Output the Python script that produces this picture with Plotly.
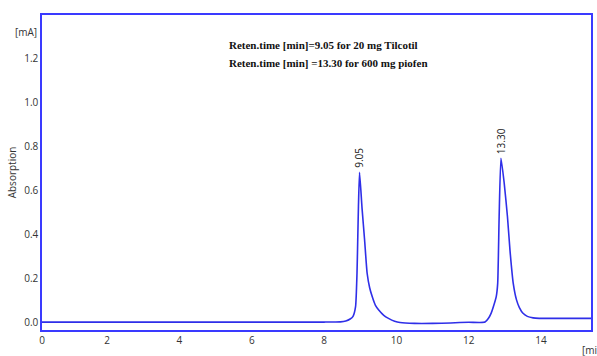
import plotly.graph_objects as go

# Chromatogram trace (time in min, absorption in mA)
time_min = [0.2, 2.0, 4.0, 6.0, 8.0, 8.45, 8.6, 8.72, 8.8, 8.87, 8.91, 8.93, 8.95, 8.98,
            9.05, 9.12, 9.19, 9.26, 9.33, 9.42, 9.51, 9.65, 9.78, 9.95, 10.1, 10.5,
            11.0, 11.5, 11.75, 12.0, 12.3, 12.45, 12.54, 12.62, 12.68, 12.76, 12.8,
            12.84, 12.89, 12.98, 13.07, 13.14, 13.23, 13.32, 13.4, 13.5, 13.62, 13.78,
            13.95, 14.5, 15.0, 15.38]
absorb = [0.004, 0.004, 0.004, 0.004, 0.004, 0.005, 0.009, 0.018, 0.03, 0.074, 0.227, 0.377,
          0.53, 0.685, 0.52, 0.377, 0.226, 0.16, 0.12, 0.08, 0.059, 0.035, 0.021, 0.008, 0.002,
          -0.002, -0.002, 0.0, 0.002, 0.003, 0.002, 0.004, 0.02, 0.045, 0.074, 0.12, 0.18,
          0.483, 0.749, 0.636, 0.483, 0.33, 0.18, 0.105, 0.07, 0.044, 0.03, 0.023,
          0.021, 0.021, 0.021, 0.021]

# Peak labels
peak_times = [8.98, 12.89]
peak_heights = [0.685, 0.749]
peak_labels = ["9.05", "13.30"]

x_tickvals = [0.2, 2, 4, 6, 8, 10, 12, 14]
x_ticktext = ["0", "2", "4", "6", "8", "10", "12", "14"]
y_tickvals = [0.0, 0.2, 0.4, 0.6, 0.8, 1.0, 1.2]

info_lines = ["Reten.time [min]=9.05 for 20 mg Tilcotil",
              "Reten.time [min] =13.30 for 600 mg piofen"]

blue = "#3a3aff"
tick_font = dict(family="Open Sans, Noto Sans, sans-serif", size=10, color="#333333")

fig = go.Figure()
fig.add_trace(go.Scatter(x=time_min, y=absorb, mode="lines",
                         line=dict(color="#2f2fe8", width=1.6, shape="spline", smoothing=0.5),
                         hoverinfo="skip", showlegend=False))

for t, h, lab in zip(peak_times, peak_heights, peak_labels):
    fig.add_annotation(x=t, y=h, text=lab, textangle=-90, showarrow=False,
                       xanchor="center", yanchor="bottom", yshift=2,
                       font=dict(family="Open Sans, Noto Sans, sans-serif", size=10, color="#222222"))

fig.add_annotation(xref="paper", yref="paper", x=(228 - 42) / 551, y=(330 - 45) / 315,
                   xanchor="left", yanchor="middle", align="left", showarrow=False,
                   text="<b>" + info_lines[0] + "</b>",
                   font=dict(family="Liberation Serif, Times New Roman, serif", size=11, color="#111111"))
fig.add_annotation(xref="paper", yref="paper", x=(228 - 42) / 551, y=(330 - 63) / 315,
                   xanchor="left", yanchor="middle", align="left", showarrow=False,
                   text="<b>" + info_lines[1] + "</b>",
                   font=dict(family="Liberation Serif, Times New Roman, serif", size=11, color="#111111"))

# unit labels
fig.add_annotation(xref="paper", yref="paper", x=(39 - 42) / 551, y=(330 - 32) / 315,
                   xanchor="right", yanchor="middle", showarrow=False, text="[mA]", font=tick_font)
fig.add_annotation(xref="paper", yref="paper", x=(582 - 42) / 551, y=(330 - 350) / 315,
                   xanchor="left", yanchor="middle", showarrow=False, text="[min]", font=tick_font)

fig.update_layout(
    width=597, height=356,
    margin=dict(l=42, r=4, t=15, b=26),
    paper_bgcolor="white", plot_bgcolor="white",
    xaxis=dict(range=[0.2, 15.38], tickvals=x_tickvals, ticktext=x_ticktext,
               showgrid=False, zeroline=False, showline=True, linecolor=blue, linewidth=2,
               mirror=True, ticks="", tickfont=tick_font),
    yaxis=dict(range=[-0.032, 1.4], tickvals=y_tickvals, tickformat=".1f",
               showgrid=False, zeroline=False, showline=True, linecolor=blue, linewidth=1.5,
               mirror=True, ticks="", tickfont=tick_font,
               title=dict(text="Absorption", standoff=6,
                          font=dict(family="Open Sans, Noto Sans, sans-serif", size=10, color="#333333"))),
)

fig.write_html("out.html")
